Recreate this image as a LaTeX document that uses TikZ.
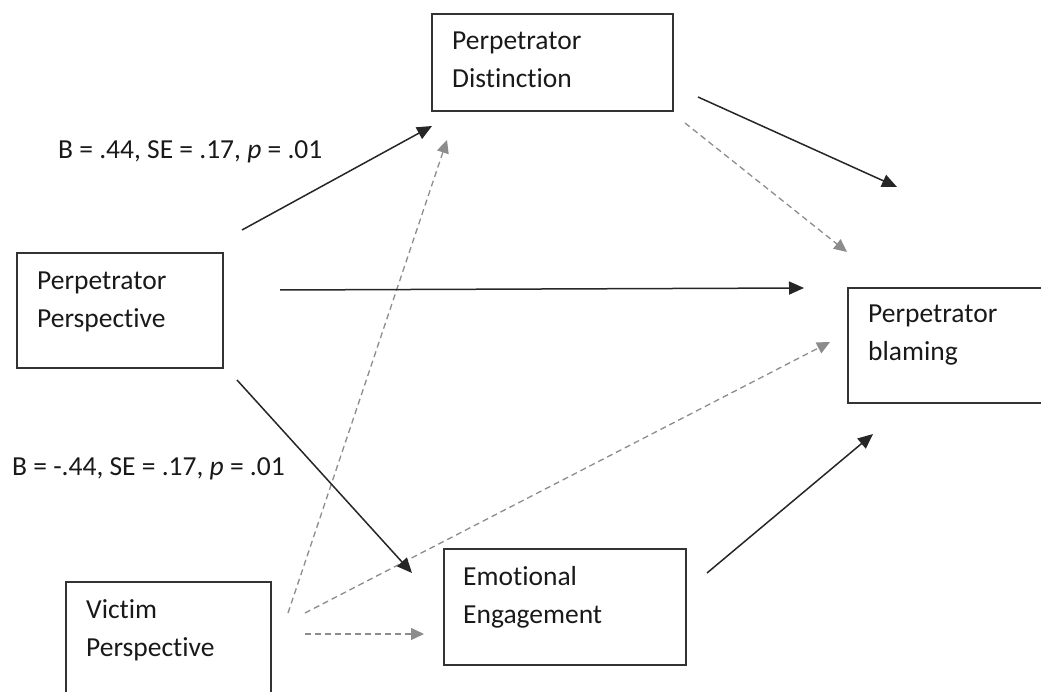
\documentclass[tikz,border=0pt]{standalone}
\usepackage{fontspec}
\setmainfont{Carlito}[Ligatures={NoCommon,NoContextual}]
\usetikzlibrary{arrows.meta}
\begin{document}
\begin{tikzpicture}[x=1pt,y=-1pt,
  box/.style={draw=black!80, line width=1.4pt, inner sep=0pt, outer sep=0pt, anchor=north west},
  txt/.style={font=\fontsize{27.5}{38}\selectfont, inner sep=0pt, anchor=base west, text=black!90},
  solidarrow/.style={draw=black!85, line width=1.5pt, -{Triangle[length=15pt,width=13pt]}},
  dasharrow/.style={draw=black!45, line width=1.3pt, dash pattern=on 6pt off 4pt, -{Triangle[length=13pt,width=12pt]}},
]
\useasboundingbox (0,0) rectangle (1041,692);
\clip (0,0) rectangle (1041,692);

% boxes
\node[box, minimum width=241pt, minimum height=97pt] (pd) at (432,14) {};
\node[box, minimum width=206pt, minimum height=115pt] (pp) at (17,253) {};
\node[box, minimum width=220pt, minimum height=115pt] (pb) at (848,288) {};
\node[box, minimum width=242pt, minimum height=116pt] (ee) at (444,549) {};
\node[box, minimum width=205pt, minimum height=140pt] (vp) at (66,582) {};

% box texts
\node[txt] (pdt1) at (452,50) {Perpetrator};
\node[txt] (pdt2) at (452,88) {Distinction};
\node[txt] (ppt1) at (37,290) {Perpetrator};
\node[txt] (ppt2) at (37,328) {Perspective};
\node[txt] (pbt1) at (868,323) {Perpetrator};
\node[txt] (pbt2) at (868,361) {blaming};
\node[txt] (eet1) at (463,585) {Emotional};
\node[txt] (eet2) at (463,623) {Engagement};
\node[txt] (vpt1) at (86,618) {Victim};
\node[txt] (vpt2) at (86,656) {Perspective};

% coefficient labels
\node[txt] (lab1) at (58,159) {B = .44, SE = .17, \textit{p} = .01};
\node[txt] (lab2) at (12,475) {B = -.44, SE = .17, \textit{p} = .01};

% connector end points
\coordinate (ppA) at (242,230);   \coordinate (pdA) at (432,126);
\coordinate (ppB) at (280,290);   \coordinate (pbB) at (804,288);
\coordinate (ppC) at (237,380);   \coordinate (eeC) at (412,573);
\coordinate (pdD) at (698,97);    \coordinate (pbD) at (897,187);
\coordinate (eeE) at (707,573);   \coordinate (pbE) at (873,434);
\coordinate (vpF) at (288,613);   \coordinate (pdF) at (447,140);
\coordinate (vpG) at (305,613);   \coordinate (pbG) at (830,342);
\coordinate (vpH) at (305,634);   \coordinate (eeH) at (424,634);
\coordinate (pdI) at (685,123);   \coordinate (pbI) at (847,252);

% dashed (gray) connectors
\draw[dasharrow] (vpF) -- (pdF);
\draw[dasharrow] (vpG) -- (pbG);
\draw[dasharrow] (vpH) -- (eeH);
\draw[dasharrow] (pdI) -- (pbI);

% solid connectors
\draw[solidarrow] (ppA) -- (pdA);
\draw[solidarrow] (ppB) -- (pbB);
\draw[solidarrow] (ppC) -- (eeC);
\draw[solidarrow] (pdD) -- (pbD);
\draw[solidarrow] (eeE) -- (pbE);
\end{tikzpicture}
\end{document}
